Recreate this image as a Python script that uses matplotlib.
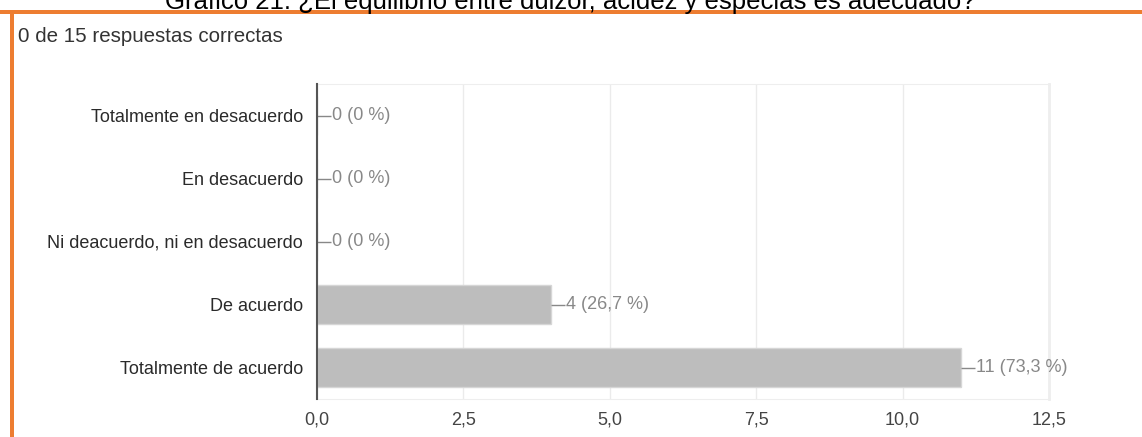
import matplotlib.pyplot as plt
from matplotlib.patches import Rectangle

# Answers to the question, top to bottom as shown in the chart
categories = [
    'Totalmente en desacuerdo',
    'En desacuerdo',
    'Ni deacuerdo, ni en desacuerdo',
    'De acuerdo',
    'Totalmente de acuerdo',
]
counts = [0, 0, 0, 4, 11]
percents = ['0 %', '0 %', '0 %', '26,7 %', '73,3 %']
x_ticks = [0.0, 2.5, 5.0, 7.5, 10.0, 12.5]

title = 'Gráfico 21: ¿El equilibrio entre dulzor, acidez y especias es adecuado?'
subtitle = '0 de 15 respuestas correctas'

FONT = 'Liberation Sans'
W, H = 1142, 437
fig = plt.figure(figsize=(W / 100, H / 100), dpi=100)
fig.patch.set_facecolor('white')

# title sits half outside the image, as in the original capture
fig.text(570 / W, 1 - 9 / H, title, ha='center', va='baseline',
         fontsize=18.5, family=FONT, color='black')

# orange frame (top and left)
orange = '#ED7D31'
fig.add_artist(Rectangle((0, 1 - 13.5 / H), 1, 4 / H, transform=fig.transFigure,
                         facecolor=orange, edgecolor='none'))
fig.add_artist(Rectangle((9.5 / W, 0), 4 / W, 1 - 13.5 / H, transform=fig.transFigure,
                         facecolor=orange, edgecolor='none'))

fig.text(18 / W, 1 - 37 / H, subtitle, ha='left', va='center',
         fontsize=14.8, family=FONT, color='#333333')

ax = fig.add_axes([317 / W, 1 - 399 / H, 732 / W, 315 / H])
ypos = list(range(len(categories)))
ax.barh(ypos, counts, height=0.63, color='#bdbdbd', edgecolor='#d6d6d6', linewidth=1, zorder=2)

ax.set_xlim(0, 12.5)
ax.set_ylim(len(categories) - 0.5, -0.5)
ax.set_xticks(x_ticks)
ax.set_xticklabels([f'{t:.1f}'.replace('.', ',') for t in x_ticks])
ax.set_yticks(ypos)
ax.set_yticklabels(categories)
ax.tick_params(length=0, labelsize=13)
ax.tick_params(axis='x', pad=9, labelcolor='#444444')
ax.tick_params(axis='y', pad=10, labelcolor='#2a2a2a')
for lab in ax.get_xticklabels() + ax.get_yticklabels():
    lab.set_family(FONT)
ax.grid(axis='x', color='#ebebeb', linewidth=1, zorder=0)

for side in ['top', 'right', 'bottom']:
    ax.spines[side].set_color('#eeeeee')
ax.spines['right'].set_linewidth(2)
ax.spines['left'].set_color('#555555')
ax.spines['left'].set_linewidth(1.5)
ax.spines['left'].set_zorder(3)

# value labels with a short leader line
for y, c, p in zip(ypos, counts, percents):
    ax.hlines(y, c, c + 0.24, color='#888888', linewidth=1, zorder=3)
    ax.text(c + 0.26, y, f'{c} ({p})', va='center', ha='left',
            fontsize=13, family=FONT, color='#888888')

fig.savefig('out.png', dpi=100)
